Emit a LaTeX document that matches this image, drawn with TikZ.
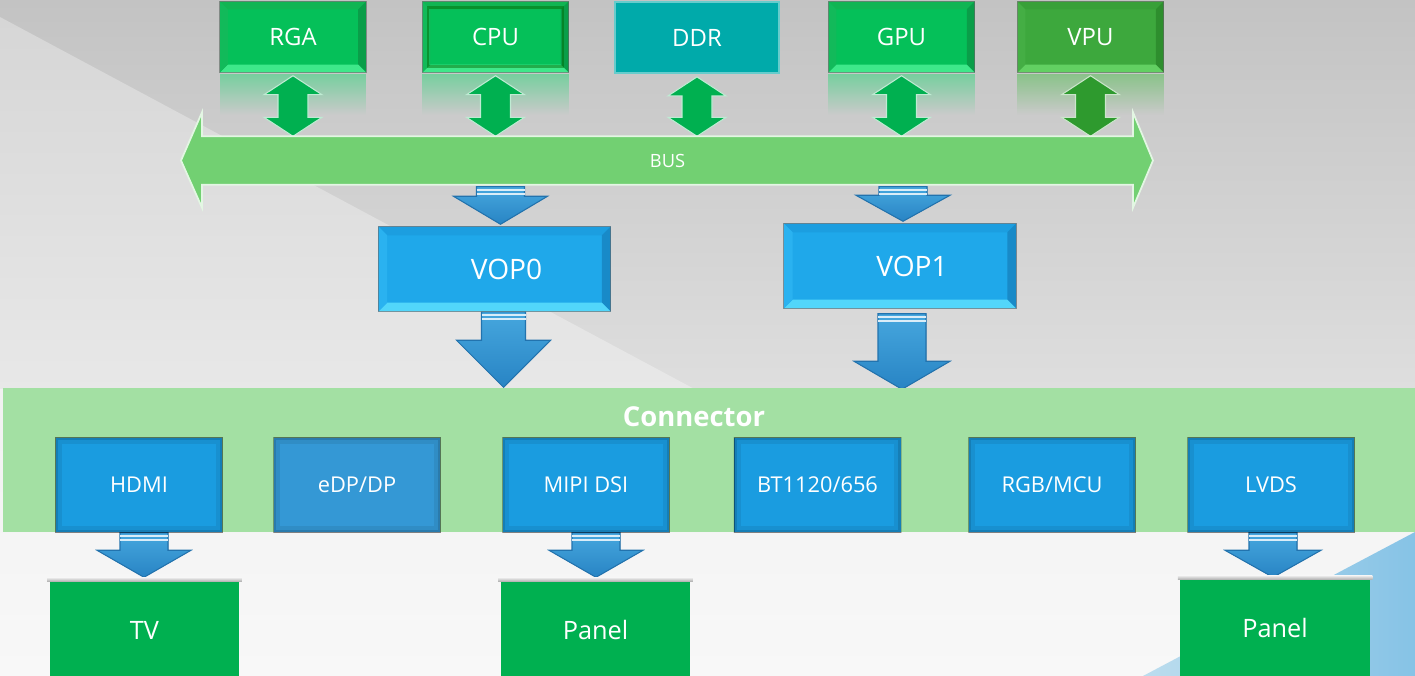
\documentclass[tikz,border=0pt]{standalone}
\usepackage{fontspec}
\setmainfont{Open Sans}
\usetikzlibrary{calc,fadings}
\definecolor{bgtop}{HTML}{C3C3C3}
\definecolor{bgmid}{HTML}{DEDEDE}
\definecolor{bglt}{HTML}{D6D6D6}
\definecolor{bgltb}{HTML}{E8E8E8}
\definecolor{bglow}{HTML}{F1F1F1}
\definecolor{bglowb}{HTML}{F8F8F8}
\definecolor{gface}{HTML}{05C059}
\definecolor{gtop}{HTML}{10B553}
\definecolor{gbot}{HTML}{3EE88A}
\definecolor{gright}{HTML}{0A9E49}
\definecolor{gleft}{HTML}{12BA5A}
\definecolor{vface}{HTML}{3DA83D}
\definecolor{vtop}{HTML}{38A038}
\definecolor{vbot}{HTML}{62D062}
\definecolor{vright}{HTML}{2E8E2E}
\definecolor{vleft}{HTML}{44AE44}
\definecolor{bface}{HTML}{1FA8EA}
\definecolor{btop}{HTML}{1C9EE0}
\definecolor{bbot}{HTML}{52D6FA}
\definecolor{bright}{HTML}{188AC8}
\definecolor{bleft}{HTML}{2AB2F0}
\definecolor{ddr}{HTML}{00AAAA}
\definecolor{busg}{HTML}{72D072}
\definecolor{band}{HTML}{A3E0A3}
\definecolor{cbox}{HTML}{1A9CE0}
\definecolor{cbox2}{HTML}{3498D5}
\definecolor{dgreen}{HTML}{00B050}
\definecolor{dvgreen}{HTML}{2E9A2E}
\definecolor{arrtop}{HTML}{46A7DE}
\definecolor{arrbot}{HTML}{2884C4}
\definecolor{arredge}{HTML}{2273AE}
\definecolor{tri1}{HTML}{BCDDEE}
\definecolor{tri2}{HTML}{86C3E6}
\pgfdeclarelayer{bg}
\pgfdeclarelayer{mid}
\pgfsetlayers{bg,mid,main}
\tikzfading[name=reflfade, top color=transparent!35, bottom color=transparent!100]
\newcommand\bevelit[6]{%
  \fill[#2] (#1.north west) -- (#1.north east) -- ($(#1.north east)+(-#6,#6)$) -- ($(#1.north west)+(#6,#6)$) -- cycle;
  \fill[#3] (#1.north east) -- (#1.south east) -- ($(#1.south east)+(-#6,-#6)$) -- ($(#1.north east)+(-#6,#6)$) -- cycle;
  \fill[#4] (#1.south east) -- (#1.south west) -- ($(#1.south west)+(#6,-#6)$) -- ($(#1.south east)+(-#6,-#6)$) -- cycle;
  \fill[#5] (#1.south west) -- (#1.north west) -- ($(#1.north west)+(#6,#6)$) -- ($(#1.south west)+(#6,-#6)$) -- cycle;
  \draw[black!60, opacity=0.6, line width=0.4pt] (#1.south west) rectangle (#1.north east);
}
\newcommand\blockarrow[5]{%
  \fill[top color=arrtop, bottom color=arrbot, draw=arredge, line width=0.3pt]
    ($(#1)+(-#3,0)$) -- ($(#2)+(-#3,-#5)$) -- ($(#2)+(-#4,-#5)$) -- (#2) --
    ($(#2)+(#4,-#5)$) -- ($(#2)+(#3,-#5)$) -- ($(#1)+(#3,0)$) -- cycle;
  \draw[white!80!arrtop, line width=0.6pt] ($(#1)+(-#3,3)$) -- ($(#1)+(#3,3)$);
  \draw[white!80!arrtop, line width=0.6pt] ($(#1)+(-#3,7)$) -- ($(#1)+(#3,7)$);
}
\newcommand\dblarrow[3]{%
  \fill[#3, draw=white!75!#3, line width=0.3pt] (#1) -- ($(#1)+(29,19)$) -- ($(#1)+(15,19)$) -- ($(#2)+(15,-19)$) --
    ($(#2)+(29,-19)$) -- (#2) -- ($(#2)+(-29,-19)$) -- ($(#2)+(-15,-19)$) --
    ($(#1)+(-15,19)$) -- ($(#1)+(-29,19)$) -- cycle;
}
\tikzset{
  topbox/.style={minimum width=1.45cm, minimum height=0.70cm, inner sep=0pt, text=white,
    font=\fontsize{6.8}{8}\selectfont},
  toplbl/.style={text=white, font=\fontsize{6.8}{8}\selectfont},
  vopbox/.style={minimum width=2.31cm, minimum height=0.84cm, inner sep=0pt, text=white, fill=bface,
    font=\fontsize{8}{10}\selectfont},
  voplbl/.style={text=white, font=\fontsize{8}{10}\selectfont},
  cbox/.style={minimum width=1.66cm, minimum height=0.94cm, inner sep=0pt, text=white, fill=cbox,
    font=\fontsize{6.2}{8}\selectfont},
  devbox/.style={minimum width=1.89cm, minimum height=0.96cm, inner sep=0pt, text=white, fill=dgreen,
    font=\fontsize{7.2}{9}\selectfont},
}
\begin{document}
\begin{tikzpicture}[x=0.01cm, y=-0.01cm]
\useasboundingbox (0,0) rectangle (1415,676);
% ---------- background
\begin{pgfonlayer}{bg}
  \shade[top color=bgtop, bottom color=bgmid] (0,0) rectangle (1415,389);
  \shade[top color=bglt, bottom color=bgltb] (0,17) -- (700,392) -- (0,392) -- cycle;
  \shade[top color=bglow, bottom color=bglowb] (0,389) rectangle (1415,676);
  \shade[left color=tri1, right color=tri2] (1415,532) -- (1143,676) -- (1415,676) -- cycle;
\end{pgfonlayer}
% ---------- top row
\node[topbox, fill=gface] (rga) at (293,37) {};
\node[topbox, fill=gface] (cpu) at (495.5,37) {};
\node[topbox, fill=ddr, draw=ddr!60!white, line width=0.5pt, minimum width=1.64cm, minimum height=0.71cm] (ddr) at (697,37.5) {DDR};
\node[topbox, fill=gface] (gpu) at (901.5,37) {};
\node[topbox, fill=vface] (vpu) at (1090.5,37) {};
\bevelit{rga}{gtop}{gright}{gbot}{gleft}{8}
\bevelit{cpu}{gtop}{gright}{gbot}{gleft}{8}
\draw[green!40!black, opacity=0.45, line width=0.7pt] ($(cpu.south west)+(6,-6)$) rectangle ($(cpu.north east)+(-6,6)$);
\bevelit{gpu}{gtop}{gright}{gbot}{gleft}{8}
\bevelit{vpu}{vtop}{vright}{vbot}{vleft}{8}
\node[toplbl] at (rga) {RGA};
\node[toplbl] at (cpu) {CPU};
\node[toplbl] at (gpu) {GPU};
\node[toplbl] at (vpu) {VPU};
% ---------- bus
\node[minimum width=9.29cm, minimum height=0.47cm, inner sep=0pt, text=white, font=\fontsize{5.2}{6}\selectfont] (bus) at (667.5,160.5) {BUS};
\begin{pgfonlayer}{mid}
  \foreach \n/\c in {rga/gbot, cpu/gbot, gpu/gbot, vpu/vbot}{
    \fill[\c!80!gray, path fading=reflfade] ($(\n.south west)+(0,1)$) rectangle ($(\n.south east)+(0,42)$);
  }
  \foreach \n/\c in {rga/dgreen, cpu/dgreen, ddr/dgreen, gpu/dgreen, vpu/dvgreen}{
    \dblarrow{$(\n.south)+(0,3)$}{\n.south |- bus.north}{\c}
  }
  \fill[busg, draw=white!80!busg, line width=0.5pt]
    (bus.north west) -- ($(bus.north west)+(0,-24)$) -- ($(bus.west)+(-21,0)$) -- ($(bus.south west)+(0,23)$) --
    (bus.south west) -- (bus.south east) -- ($(bus.south east)+(0,23)$) -- ($(bus.east)+(20,0)$) --
    ($(bus.north east)+(0,-24)$) -- (bus.north east) -- cycle;
\end{pgfonlayer}
% ---------- VOPs
\node[vopbox] (vop0) at (494.5,269) {};
\node[vopbox] (vop1) at (900,266) {};
\bevelit{vop0}{btop}{bright}{bbot}{bleft}{9}
\bevelit{vop1}{btop}{bright}{bbot}{bleft}{9}
\node[voplbl] at ($(vop0)+(12,0)$) {VOP0};
\node[voplbl] at ($(vop1)+(12,0)$) {VOP1};
\begin{pgfonlayer}{mid}
  \coordinate (v0a) at ($(vop0.north |- bus.south)+(6,2)$);
  \coordinate (v0b) at ($(vop0.north)+(6,-2)$);
  \blockarrow{v0a}{v0b}{24}{47}{28}
  \coordinate (v1a) at ($(vop1.north |- bus.south)+(3,2)$);
  \coordinate (v1b) at ($(vop1.north)+(3,-2)$);
  \blockarrow{v1a}{v1b}{24}{47}{26}
\end{pgfonlayer}
% ---------- connector band
\node[fill=band, minimum width=14.12cm, minimum height=1.44cm, inner sep=0pt] (conn) at (709,460) {};
\node[text=white, font=\fontsize{7.8}{10}\selectfont\bfseries] (connlbl) at (694,417) {Connector};
\begin{pgfonlayer}{mid}
  \coordinate (c0a) at ($(vop0.south)+(9,0)$);
  \coordinate (c0b) at ($(vop0.south |- conn.north)+(9,0)$);
  \blockarrow{c0a}{c0b}{22}{47}{47}
  \coordinate (c1a) at ($(vop1.south)+(2,5)$);
  \coordinate (c1b) at ($(vop1.south |- conn.north)+(2,2)$);
  \blockarrow{c1a}{c1b}{24}{48}{28}
\end{pgfonlayer}
\node[cbox] (hdmi) at (139,485) {};
\node[cbox, fill=cbox2] (edp) at (357,485) {};
\node[cbox] (mipi) at (586,485) {};
\node[cbox] (bt) at (817.5,485) {};
\node[cbox] (rgb) at (1052,485) {};
\node[cbox] (lvds) at (1271,485) {};
\foreach \n in {hdmi,edp,mipi,bt,rgb,lvds}{
  \begin{scope}
    \clip (\n.south west) rectangle (\n.north east);
    \draw[black, opacity=0.07, line width=0.14cm] (\n.south west) rectangle (\n.north east);
    \draw[black, opacity=0.12, line width=0.06cm] (\n.south west) rectangle (\n.north east);
    \draw[black, opacity=0.35, line width=0.015cm] (\n.south west) rectangle (\n.north east);
  \end{scope}
}
\node[text=white, font=\fontsize{6.2}{8}\selectfont] at (hdmi) {HDMI};
\node[text=white, font=\fontsize{6.2}{8}\selectfont] at (edp) {eDP/DP};
\node[text=white, font=\fontsize{6.2}{8}\selectfont] at (mipi) {MIPI DSI};
\node[text=white, font=\fontsize{6.2}{8}\selectfont] at (bt) {BT1120/656};
\node[text=white, font=\fontsize{6.2}{8}\selectfont] at (rgb) {RGB/MCU};
\node[text=white, font=\fontsize{6.2}{8}\selectfont] at (lvds) {LVDS};
% ---------- devices
\node[devbox] (tv) at (144.5,630) {TV};
\node[devbox] (panel1) at (595.5,630) {Panel};
\node[devbox] (panel2) at (1275,628) {Panel};
\foreach \n in {tv,panel1,panel2}{
  \shade[top color=black!5, bottom color=black!30] ($(\n.north west)+(-2,-4)$) rectangle ($(\n.north east)+(2,0)$);
}
\begin{pgfonlayer}{mid}
  \coordinate (t0a) at ($(hdmi.south)+(5,0)$);
  \coordinate (t0b) at ($(hdmi.south |- tv.north)+(5,-4)$);
  \blockarrow{t0a}{t0b}{24}{47}{27}
  \coordinate (t1a) at ($(mipi.south)+(10,0)$);
  \coordinate (t1b) at ($(mipi.south |- panel1.north)+(10,-4)$);
  \blockarrow{t1a}{t1b}{24}{47}{27}
  \coordinate (t2a) at ($(lvds.south)+(2,0)$);
  \coordinate (t2b) at ($(lvds.south |- panel2.north)+(2,-2)$);
  \blockarrow{t2a}{t2b}{24}{48}{27}
\end{pgfonlayer}
\end{tikzpicture}
\end{document}
